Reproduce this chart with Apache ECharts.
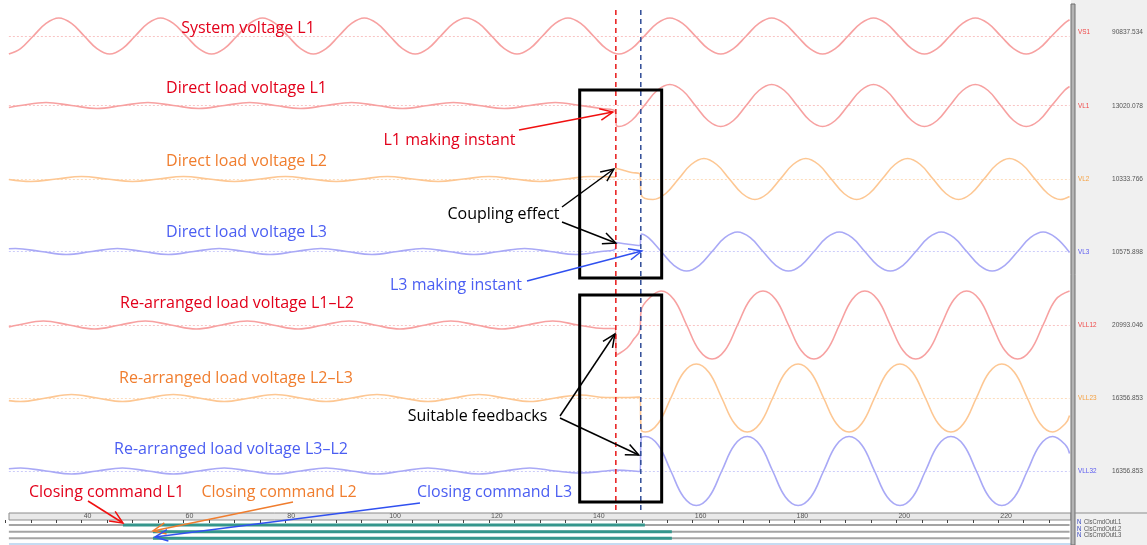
<!DOCTYPE html>
<html>
<head>
<meta charset="utf-8">
<script src="https://cdn.jsdelivr.net/npm/echarts@6/dist/echarts.min.js"></script>
<style>
html, body { margin: 0; padding: 0; background: #fff; }
#main { width: 1147px; height: 545px; }
</style>
</head>
<body>
<div id="main"></div>
<script>
// traces: [time ms, deflection in screen divisions]
const vs1 = [
  [25.7,-20],[28,-14],[30.5,0],[33,14],[35.5,20],[38,14],[40.5,0],[43,-14],
  [45.5,-20],[48,-14],[50.5,0],[53,14],[55.5,20],[58,14],[60.5,0],[63,-14],
  [65.5,-20],[68,-14],[70.5,0],[73,14],[75.5,20],[78,14],[80.5,0],[83,-14],
  [85.5,-20],[88,-14],[90.5,0],[93,14],[95.5,20],[98,14],[100.5,0],[103,-14],
  [105.5,-20],[108,-14],[110.5,0],[113,14],[115.5,20],[118,14],[120.5,0],[123,-14],
  [125.5,-20],[128,-14],[130.5,0],[133,14],[135.5,20],[138,14],[140.5,0],[143,-14],
  [145.5,-20],[148,-14],[150.5,0],[153,14],[155.5,20],[158,14],[160.5,0],[163,-14],
  [165.5,-20],[168,-14],[170.5,0],[173,14],[175.5,20],[178,14],[180.5,0],[183,-14],
  [185.5,-20],[188,-14],[190.5,0],[193,14],[195.5,20],[198,14],[200.5,0],[203,-14],
  [205.5,-20],[208,-14],[210.5,0],[213,14],[215.5,20],[218,14],[220.5,0],[223,-14],
  [225.5,-20],[228,-14],[230.5,0],[233,14],[234,18]
];
const vl1 = [
  [25.7,-2],[28,0],[33,3],[38,0],[43,-3],[48,0],[53,3],[58,0],[63,-3],[68,0],[73,3],[78,0],
  [83,-3],[88,0],[93,3],[98,0],[103,-3],[108,0],[113,3],[118,0],[123,-3],[128,0],[133,3],[138,0],
  [142,-3],[144.8,-6],[145,-20],[145.5,-21],[148,-15],[150.5,0],[153,15],[155.5,21],[158,15],[160.5,0],[163,-15],
  [165.5,-21],[168,-15],[170.5,0],[173,15],[175.5,21],[178,15],[180.5,0],[183,-15],
  [185.5,-21],[188,-15],[190.5,0],[193,15],[195.5,21],[198,15],[200.5,0],[203,-15],
  [205.5,-21],[208,-15],[210.5,0],[213,15],[215.5,21],[218,15],[220.5,0],[223,-15],
  [225.5,-21],[228,-15],[230.5,0],[233,15],[234,19]
];
const vl2 = [
  [25.7,-0.5],[30,-2.5],[35,0],[40,2.5],[45,0],[50,-2.5],[55,0],[60,2.5],[65,0],[70,-2.5],[75,0],[80,2.5],
  [85,0],[90,-2.5],[95,0],[100,2.5],[105,0],[110,-2.5],[115,0],[120,2.5],[125,0],[130,-2.5],[135,0],[140,2.5],
  [144.8,2],[145,10.5],[146.5,8.5],[148,6.5],[149.6,5],[149.9,-16],[152.2,-20.5],[154.7,-14.5],[157.2,0],
  [159.7,14.5],[162.2,20.5],[164.7,14.5],[167.2,0],[169.7,-14.5],[172.2,-20.5],[174.7,-14.5],[177.2,0],
  [179.7,14.5],[182.2,20.5],[184.7,14.5],[187.2,0],[189.7,-14.5],[192.2,-20.5],[194.7,-14.5],[197.2,0],
  [199.7,14.5],[202.2,20.5],[204.7,14.5],[207.2,0],[209.7,-14.5],[212.2,-20.5],[214.7,-14.5],[217.2,0],
  [219.7,14.5],[222.2,20.5],[224.7,14.5],[227.2,0],[229.7,-14.5],[232.2,-20.5],[234,-17.5]
];
const vl3 = [
  [25.7,2.7],[27,3],[32,0],[37,-3],[42,0],[47,3],[52,0],[57,-3],[62,0],[67,3],[72,0],[77,-3],
  [82,0],[87,3],[92,0],[97,-3],[102,0],[107,3],[112,0],[117,-3],[122,0],[127,3],[132,0],[137,-3],
  [142,0],[144.8,2.5],[145,9],[147,7.5],[149.6,6],[149.9,17.5],[151.3,13.8],[153.8,0],[156.3,-13.8],
  [158.8,-19.5],[161.3,-13.8],[163.8,0],[166.3,13.8],[168.8,19.5],[171.3,13.8],[173.8,0],[176.3,-13.8],
  [178.8,-19.5],[181.3,-13.8],[183.8,0],[186.3,13.8],[188.8,19.5],[191.3,13.8],[193.8,0],[196.3,-13.8],
  [198.8,-19.5],[201.3,-13.8],[203.8,0],[206.3,13.8],[208.8,19.5],[211.3,13.8],[213.8,0],[216.3,-13.8],
  [218.8,-19.5],[221.3,-13.8],[223.8,0],[226.3,13.8],[228.8,19.5],[231.3,13.8],[234,-1]
];
const vll12 = [
  [25.7,-2],[27.5,0],[32.5,4],[37.5,0],[42.5,-4],[47.5,0],[52.5,4],[57.5,0],[62.5,-4],[67.5,0],[72.5,4],[77.5,0],
  [82.5,-4],[87.5,0],[92.5,4],[97.5,0],[102.5,-4],[107.5,0],[112.5,4],[117.5,0],[122.5,-4],[127.5,0],[132.5,4],[137.5,0],
  [142.5,-3.5],[144.8,-3.5],[145,-30],[147.1,-23],[148.3,-15],[149.6,-5],[149.9,15],[151.3,26],[153.8,34],
  [156.3,25.5],[158.8,0],[161.3,-25.5],[163.8,-34],[166.3,-25.5],[168.8,0],[171.3,25.5],[173.8,34],
  [176.3,25.5],[178.8,0],[181.3,-25.5],[183.8,-34],[186.3,-25.5],[188.8,0],[191.3,25.5],[193.8,34],
  [196.3,25.5],[198.8,0],[201.3,-25.5],[203.8,-34],[206.3,-25.5],[208.8,0],[211.3,25.5],[213.8,34],
  [216.3,25.5],[218.8,0],[221.3,-25.5],[223.8,-34],[226.3,-25.5],[228.8,0],[231.3,25.5],[234,34]
];
const vll23 = [
  [25.7,-2.6],[28,-3.5],[33,0],[38,3.5],[43,0],[48,-3.5],[53,0],[58,3.5],[63,0],[68,-3.5],[73,0],[78,3.5],
  [83,0],[88,-3.5],[93,0],[98,3.5],[103,0],[108,-3.5],[113,0],[118,3.5],[123,0],[128,-3.5],[133,0],[138,3],
  [143,0.5],[147,0.5],[149.6,1],[149.9,-32],[150.7,-34],[153.2,-25.5],[155.7,0],[158.2,25.5],[160.7,34],
  [163.2,25.5],[165.7,0],[168.2,-25.5],[170.7,-34],[173.2,-25.5],[175.7,0],[178.2,25.5],[180.7,34],
  [183.2,25.5],[185.7,0],[188.2,-25.5],[190.7,-34],[193.2,-25.5],[195.7,0],[198.2,25.5],[200.7,34],
  [203.2,25.5],[205.7,0],[208.2,-25.5],[210.7,-34],[213.2,-25.5],[215.7,0],[218.2,25.5],[220.7,34],
  [223.2,25.5],[225.7,0],[228.2,-25.5],[230.7,-34],[233.2,-25.5],[234,-17.5]
];
const vll32 = [
  [25.7,2.2],[28,3],[33,0],[38,-3],[43,0],[48,3],[53,0],[58,-3],[63,0],[68,3],[73,0],[78,-3],
  [83,0],[88,3],[93,0],[98,-3],[103,0],[108,3],[113,0],[118,-3],[123,0],[128,3],[133,0],[138,-2],
  [143,0],[144.8,1],[147,0.5],[149.6,-0.5],[149.9,33],[150.7,34.5],[153.2,26],[155.7,0],[158.2,-26],
  [160.7,-34.5],[163.2,-26],[165.7,0],[168.2,26],[170.7,34.5],[173.2,26],[175.7,0],[178.2,-26],
  [180.7,-34.5],[183.2,-26],[185.7,0],[188.2,26],[190.7,34.5],[193.2,26],[195.7,0],[198.2,-26],
  [200.7,-34.5],[203.2,-26],[205.7,0],[208.2,26],[210.7,34.5],[213.2,26],[215.7,0],[218.2,-26],
  [220.7,-34.5],[223.2,-26],[225.7,0],[228.2,26],[230.7,34.5],[233.2,26],[234,17.5]
];

const channelNames = ['VS1', 'VL1', 'VL2', 'VL3', 'VLL12', 'VLL23', 'VLL32'];
const channelValues = ['90837.534', '13020.078', '10333.766', '10575.898', '20993.046', '16356.853', '16356.853'];
const traceTitles = ['System voltage L1', 'Direct load voltage L1', 'Direct load voltage L2', 'Direct load voltage L3',
  'Re-arranged load voltage L1\u2013L2', 'Re-arranged load voltage L2\u2013L3', 'Re-arranged load voltage L3\u2013L2'];

// binary closing command outputs (ms)
const cmdNames = ['ClsCmdOutL1', 'ClsCmdOutL2', 'ClsCmdOutL3'];
const cmdOn = [48.1, 54.0, 54.0];
const cmdOff = [150.6, 155.9, 155.9];

const makingL1 = 144.9;
const makingL3 = 149.8;
const tStart = 25.7, tEnd = 234;

const traces = [vs1, vl1, vl2, vl3, vll12, vll23, vll32];
const phase = ['r', 'r', 'o', 'b', 'r', 'o', 'b'];
const lineCol = { r: '#f7a1a1', o: '#fdc793', b: '#a9a9f6' };
const dotCol = { r: '#f9c4c4', o: '#fddcbc', b: '#ccccfa' };
const tagCol = { r: '#f04848', o: '#f5a040', b: '#5a5af0' };
const textCol = { r: '#e2001a', o: '#f07d2e', b: '#4b5ef2' };

const rowY = [32, 105.5, 179, 251.5, 325, 398, 471];
const halfH = 40;
const L = 5.3, R = 46.9;
const xMin = 25, xMax = 240;

const chart = echarts.init(document.getElementById('main'));

const grid = [], xAxis = [], yAxis = [], series = [];
traces.forEach((tr, i) => {
  const c = phase[i];
  grid.push({ left: L, right: R, top: rowY[i] - halfH, height: 2 * halfH });
  xAxis.push({ type: 'value', gridIndex: i, min: xMin, max: xMax, show: false });
  yAxis.push({ type: 'value', gridIndex: i, min: -halfH, max: halfH, show: false });
  series.push({
    name: channelNames[i],
    type: 'line',
    xAxisIndex: i,
    yAxisIndex: i,
    data: tr,
    smooth: 0.4,
    symbol: 'none',
    clip: false,
    z: 3,
    lineStyle: { color: lineCol[c], width: 1.6 },
    markLine: {
      silent: true,
      symbol: 'none',
      label: { show: false },
      z: 1,
      lineStyle: { color: dotCol[c], type: [2, 2], width: 1 },
      data: [[{ coord: [tStart, 0] }, { coord: [tEnd, 0] }]]
    }
  });
});

// ruler: a tick every 5 ms, labelled every 20 ms
grid.push({ left: L, right: R, top: 514, height: 6 });
xAxis.push({
  type: 'value', gridIndex: 7, min: xMin, max: xMax, interval: 5, position: 'top', z: 5,
  axisLine: { show: false },
  splitLine: { show: false },
  axisTick: { show: true, inside: true, length: 3, lineStyle: { color: '#444' } },
  axisLabel: {
    inside: true, margin: -1, fontSize: 7, color: '#555', align: 'left', padding: [0, 0, 0, 2],
    formatter: v => (v % 20 === 0 && v >= 40 && v <= 220) ? String(v) : ''
  }
});
yAxis.push({ type: 'value', gridIndex: 7, min: 0, max: 1, show: false });

// binary channels
grid.push({ left: L, right: R, top: 521.7, height: 20 });
xAxis.push({ type: 'value', gridIndex: 8, min: xMin, max: xMax, show: false });
yAxis.push({ type: 'value', gridIndex: 8, min: 0, max: 3, inverse: true, show: false });
cmdNames.forEach((n, i) => {
  series.push({
    type: 'line', xAxisIndex: 8, yAxisIndex: 8, symbol: 'none', z: 1,
    lineStyle: { color: '#a4a4a4', width: 2 },
    data: [[tStart, i + 0.5], [tEnd, i + 0.5]]
  });
  series.push({
    name: n, type: 'line', xAxisIndex: 8, yAxisIndex: 8, symbol: 'none', z: 2,
    lineStyle: { color: '#35968c', width: 3 },
    data: [[cmdOn[i], i + 0.5], [cmdOff[i], i + 0.5]]
  });
});

chart.setOption({
  animation: false,
  backgroundColor: '#ffffff',
  grid, xAxis, yAxis, series
});

function arrow(x1, y1, x2, y2, color) {
  const a = Math.atan2(y2 - y1, x2 - x1);
  const len = 14, sp = 0.42;
  const p1 = [x2 - len * Math.cos(a - sp), y2 - len * Math.sin(a - sp)];
  const p2 = [x2 - len * Math.cos(a + sp), y2 - len * Math.sin(a + sp)];
  return [
    { type: 'line', z: 60, shape: { x1, y1, x2, y2 }, style: { stroke: color, lineWidth: 1.5 } },
    { type: 'polyline', z: 60, shape: { points: [p1, [x2, y2], p2] }, style: { stroke: color, lineWidth: 1.5, fill: null } }
  ];
}

function label(text, x, y, color) {
  return { type: 'text', z: 60, x, y, style: { text, fill: color, font: '16px "Open Sans"', align: 'center', verticalAlign: 'middle' } };
}

const px = t => chart.convertToPixel({ xAxisIndex: 0 }, t);
const xL1 = px(makingL1), xL3 = px(makingL3);
const boxL = px(137.8), boxR = px(153.9);

const g = [];
// ruler background
g.push({ type: 'rect', z: -10, shape: { x: 9, y: 513, width: 1062, height: 7 }, style: { fill: '#e9e9e9', stroke: '#8c8c8c', lineWidth: 1 } });
g.push({ type: 'line', z: 50, shape: { x1: 9, y1: 544, x2: 1147, y2: 544 }, style: { stroke: '#c6dcf2', lineWidth: 2 } });

// trace titles
const titleX = [248, 246.5, 246.5, 246.5, 237, 236, 231];
const titleY = [28, 88, 161, 232, 303, 378, 449];
traceTitles.forEach((t, i) => g.push(label(t, titleX[i], titleY[i], textCol[phase[i]])));

// making instants
g.push({ type: 'line', z: 40, shape: { x1: xL1, y1: 10, x2: xL1, y2: 510 }, style: { stroke: '#e81818', lineWidth: 1.5, lineDash: [5, 4] } });
g.push({ type: 'line', z: 40, shape: { x1: xL3, y1: 10, x2: xL3, y2: 510 }, style: { stroke: '#2f4b96', lineWidth: 1.5, lineDash: [5, 4] } });
g.push({ type: 'rect', z: 45, shape: { x: boxL, y: 90, width: boxR - boxL, height: 188 }, style: { fill: null, stroke: '#000', lineWidth: 3 } });
g.push({ type: 'rect', z: 45, shape: { x: boxL, y: 295, width: boxR - boxL, height: 207 }, style: { fill: null, stroke: '#000', lineWidth: 3 } });

g.push(label('L1 making instant', 449.5, 140, textCol.r));
g.push(...arrow(519, 130, xL1 - 3, 112, '#f01010'));
g.push(label('Coupling effect', 503.5, 214, '#000'));
g.push(...arrow(562, 207, xL1 - 2, 169, '#000'));
g.push(...arrow(562, 222, xL1, 243, '#000'));
g.push(label('L3 making instant', 456, 285, textCol.b));
g.push(...arrow(527, 281, xL3 + 1, 251, '#3050f0'));
g.push(label('Suitable feedbacks', 477.5, 416, '#000'));
g.push(...arrow(560, 416, xL1 - 1, 334, '#000'));
g.push(...arrow(560, 418, xL3 - 2, 455, '#000'));

g.push(label('Closing command L1', 106.5, 492, textCol.r));
g.push(label('Closing command L2', 279, 492, textCol.o));
g.push(label('Closing command L3', 494.5, 492, textCol.b));
g.push(...arrow(88, 501, px(cmdOn[0]), 523, '#f01010'));
g.push(...arrow(293, 502, px(cmdOn[1]), 531, '#f07d2e'));
g.push(...arrow(420, 503, px(cmdOn[2]) + 2, 537, '#3050f0'));

// right channel panel
const small = '"Liberation Sans", sans-serif';
g.push({ type: 'rect', z: 100, shape: { x: 1071, y: 0, width: 76, height: 545 }, style: { fill: '#f0f0f0' } });
g.push({ type: 'rect', z: 101, shape: { x: 1071, y: 4, width: 4, height: 541 }, style: { fill: '#b4b4b4', stroke: '#6e6e6e', lineWidth: 1 } });
g.push({ type: 'line', z: 101, shape: { x1: 1075, y1: 513, x2: 1147, y2: 513 }, style: { stroke: '#8c8c8c', lineWidth: 1 } });
channelNames.forEach((n, i) => {
  g.push({ type: 'text', z: 102, x: 1078, y: rowY[i], scaleX: 0.8, style: { text: n, fill: tagCol[phase[i]], font: '8px ' + small, verticalAlign: 'middle' } });
  g.push({ type: 'text', z: 102, x: 1112, y: rowY[i], scaleX: 0.82, style: { text: channelValues[i], fill: '#555', font: '8px ' + small, verticalAlign: 'middle' } });
});
cmdNames.forEach((n, i) => {
  const y = 522 + i * 6.6;
  g.push({ type: 'text', z: 102, x: 1077, y, scaleX: 0.85, style: { text: 'N', fill: '#3040c0', font: '7px ' + small, verticalAlign: 'middle' } });
  g.push({ type: 'text', z: 102, x: 1084, y, scaleX: 0.85, style: { text: n, fill: '#555', font: '7px ' + small, verticalAlign: 'middle' } });
});

chart.setOption({ graphic: { elements: g } });
</script>
</body>
</html>
